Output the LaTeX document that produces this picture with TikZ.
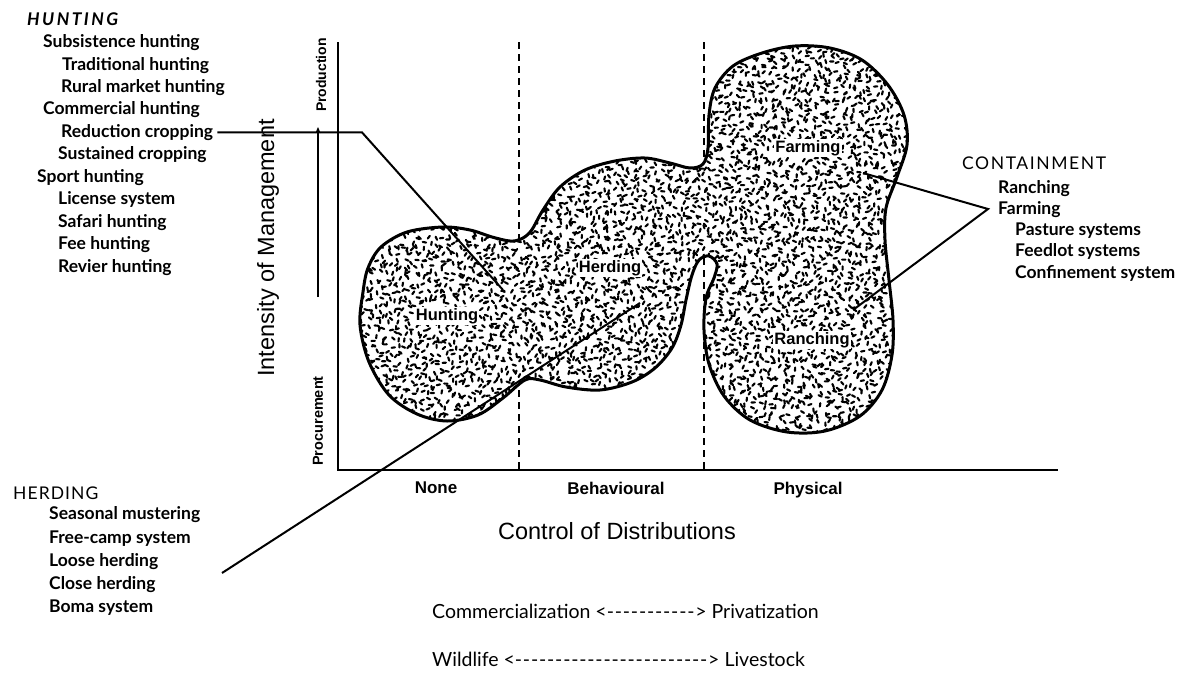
\documentclass[tikz,border=0pt]{standalone}
\usepackage{fontspec}
\setmainfont{Liberation Sans}
\newfontfamily\listfont{Lato}
\newfontfamily\capfontA[LetterSpace=14]{Lato}
\newfontfamily\capfontB[LetterSpace=9]{Lato}
\newfontfamily\capfontC[LetterSpace=6]{Lato}
\usetikzlibrary{arrows.meta}
\newcommand\dashrun[1]{\foreach\i in {1,...,#1}{-\kern0.8pt}}
\newcommand\blobshape{plot[smooth cycle,tension=0.55] coordinates {
(360,325) (363,292) (368,268) (381,247) (407,232) (443,227) (470,230) (492,237) (510,241) (521,239)
(531,231) (543,210) (560,187) (585,170) (615,161) (645,158) (670,163) (690,168) (703,164) (708,148)
(709,115) (715,88) (733,66) (762,53) (795,46) (830,48) (862,60) (888,85) (904,115) (907,145)
(897,177) (886,208) (885,240) (889,280) (893,320) (892,355) (882,390) (860,416) (825,431) (787,432)
(750,420) (724,396) (709,364) (704,330) (706,298) (714,278) (717,264) (709,256) (699,260) (692,275)
(686,300) (681,325) (672,348) (655,368) (632,382) (600,390) (566,387) (540,380) (525,380) (503,398)
(478,415) (447,421) (417,414) (389,395) (369,362)}}
\begin{document}
\begin{tikzpicture}[x=1pt,y=-1pt,
  lst/.style={anchor=base west,inner sep=0pt,font=\listfont\bfseries\fontsize{17.5}{20}\selectfont},
  hdr/.style={anchor=base west,inner sep=0pt,font=\capfontB\fontsize{17.5}{20}\selectfont},
  lbl/.style={inner sep=0pt,font=\bfseries\fontsize{17}{19}\selectfont},
  inlbl/.style={inner sep=1pt,fill=white,font=\bfseries\fontsize{16.5}{18}\selectfont},
  axl/.style={inner sep=0pt,font=\fontsize{23.5}{26}\selectfont},
  btm/.style={anchor=base west,inner sep=0pt,font=\listfont\fontsize{19.5}{22}\selectfont},
  axisln/.style={line width=2pt},
  vdash/.style={line width=2.3pt,dash pattern=on 7pt off 5pt},
  conn/.style={line width=2pt},
  stip/.style={line width=2.1pt,line cap=round},
  outline/.style={line width=3pt}]
\useasboundingbox[fill=white] (0,0) rectangle (1192,675);

% dashed separators
\coordinate (d1t) at (519,42); \coordinate (d1b) at (519,470);
\coordinate (d2t) at (704,42); \coordinate (d2b) at (704,470);
\draw[vdash] (d1t) -- (d1b);
\draw[vdash] (d2t) -- (d2b);

% axes
\coordinate (ytop) at (338,42); \coordinate (O) at (338,470); \coordinate (xend) at (1058,470);
\draw[axisln] (ytop) -- (O) -- (xend);

% blob
\fill[white] \blobshape;
\begin{scope}
\clip \blobshape;
\pgfmathsetseed{7}
\foreach \yy in {42,48,...,436}{
  \draw[stip] \foreach \xx in {354,360,...,912}{ ({\xx+6*rnd},{\yy+6*rnd}) -- ++({360*rnd}:3.4) };
}
\end{scope}
\draw[outline] \blobshape;

% region labels
\node[inlbl] (hunt) at (447,316) {Hunting};
\node[inlbl] (herd) at (610,268) {Herding};
\node[inlbl] (farm) at (808,148) {Farming};
\node[inlbl] (ranch) at (812,340) {Ranching};

% axis labels
\node[lbl] (none) at (436,488) {None};
\node[lbl] (behav) at (616,488) {Behavioural};
\node[lbl] (phys) at (808,490) {Physical};
\node[axl] (ctrl) at (617,531) {Control of Distributions};
\node[axl,rotate=90] (intens) at (268,248) {Intensity of Management};
\node[lbl,rotate=90,font=\bfseries\fontsize{14.5}{16}\selectfont] (proc) at (318,421) {Procurement};
\node[lbl,rotate=90,font=\bfseries\fontsize{14}{16}\selectfont] (prod) at (321,75) {Production};
\coordinate (pa1) at (318,297); \coordinate (pa2) at (318,127);
\draw[conn,-{Stealth[length=6pt,width=5pt]}] (pa1) -- (pa2);

% HUNTING list
\node[hdr,font=\capfontA\bfseries\itshape\fontsize{17.5}{20}\selectfont] (hH) at (27,25) {HUNTING};
\node[lst] (h1) at (43,47.5) {Subsistence hunting};
\node[lst] (h2) at (62,70) {Traditional hunting};
\node[lst] (h3) at (61,92.4) {Rural market hunting};
\node[lst] (h4) at (43,114.8) {Commercial hunting};
\node[lst] (red) at (61,137.3) {Reduction cropping};
\node[lst] (h6) at (58,159.7) {Sustained cropping};
\node[lst] (h7) at (37,182.2) {Sport hunting};
\node[lst] (h8) at (58,204.6) {License system};
\node[lst] (h9) at (58,227) {Safari hunting};
\node[lst] (h10) at (58,249.5) {Fee hunting};
\node[lst] (h11) at (58,272) {Revier hunting};

% HERDING list
\node[hdr,font=\capfontC\fontsize{17.5}{20}\selectfont] (rH) at (13,499) {HERDING};
\node[lst] (r1) at (49,519) {Seasonal mustering};
\node[lst] (r2) at (49,543) {Free-camp system};
\node[lst] (r3) at (49,566) {Loose herding};
\node[lst] (r4) at (49,589) {Close herding};
\node[lst] (r5) at (49,612) {Boma system};

% CONTAINMENT list
\node[hdr] (cH) at (962,169) {CONTAINMENT};
\node[lst] (c1) at (998,193) {Ranching};
\node[lst] (c2) at (998,214) {Farming};
\node[lst] (c3) at (1015,235) {Pasture systems};
\node[lst] (c4) at (1015,256) {Feedlot systems};
\node[lst] (c5) at (1015,278) {Confinement system};

% connectors
\coordinate (redK) at (362,132); \coordinate (redE) at (503,290);
\draw[conn] ([xshift=4pt]red.east) -- (red.east -| redK) -- (redE);
\coordinate (hS) at (222,573); \coordinate (hE) at (640,303);
\draw[conn] (hS) -- (hE);
\coordinate (capex) at (988,209); \coordinate (cA) at (863,173); \coordinate (cB) at (853,310);
\draw[conn] (cA) -- (capex) -- (cB);

% bottom lines
\node[btm] (com) at (432,618) {Commercialization <\dashrun{11}> Privatization};
\node[btm] (wild) at (432,666) {Wildlife <\dashrun{24}> Livestock};
\end{tikzpicture}
\end{document}
